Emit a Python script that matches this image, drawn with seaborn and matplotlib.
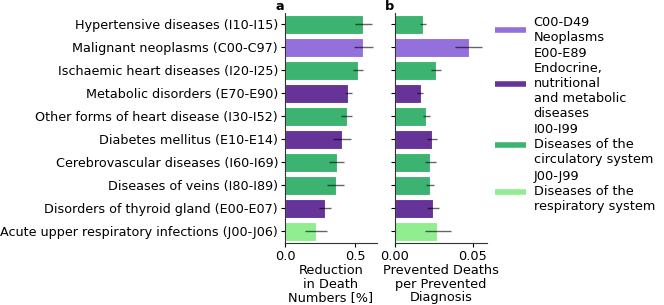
import numpy as np
import pandas as pd
import matplotlib
matplotlib.use("Agg")
import matplotlib.pyplot as plt
from matplotlib.lines import Line2D
from matplotlib.ticker import FormatStrFormatter
import seaborn as sns

# ====================
# DATOS
# ====================
diseases = [
    "Hypertensive diseases (I10-I15)",
    "Malignant neoplasms (C00-C97)",
    "Ischaemic heart diseases (I20-I25)",
    "Metabolic disorders (E70-E90)",
    "Other forms of heart disease (I30-I52)",
    "Diabetes mellitus (E10-E14)",
    "Cerebrovascular diseases (I60-I69)",
    "Diseases of veins (I80-I89)",
    "Disorders of thyroid gland (E00-E07)",
    "Acute upper respiratory infections (J00-J06)",
]
chapters = ["I00-I99", "C00-D49", "I00-I99", "E00-E89", "I00-I99",
            "E00-E89", "I00-I99", "I00-I99", "E00-E89", "J00-J99"]

reduction = [0.557, 0.557, 0.521, 0.452, 0.440, 0.405, 0.367, 0.360, 0.283, 0.219]
reduction_lo = [0.498, 0.490, 0.486, 0.430, 0.398, 0.343, 0.312, 0.302, 0.240, 0.143]
reduction_hi = [0.617, 0.630, 0.557, 0.474, 0.479, 0.469, 0.421, 0.417, 0.331, 0.300]

prevented = [0.0182, 0.0472, 0.0261, 0.0167, 0.0201, 0.0237, 0.0227, 0.0222, 0.0241, 0.0271]
prevented_lo = [0.0162, 0.0383, 0.0229, 0.0143, 0.0180, 0.0207, 0.0194, 0.0197, 0.0207, 0.0190]
prevented_hi = [0.0201, 0.0560, 0.0297, 0.0182, 0.0227, 0.0271, 0.0261, 0.0248, 0.0280, 0.0357]

chapter_labels = {
    "C00-D49": "C00-D49\nNeoplasms",
    "E00-E89": "E00-E89\nEndocrine,\nnutritional\nand metabolic\ndiseases",
    "I00-I99": "I00-I99\nDiseases of the\ncirculatory system",
    "J00-J99": "J00-J99\nDiseases of the\nrespiratory system",
}
palette = {
    "C00-D49": "#9370db",
    "E00-E89": "#663399",
    "I00-I99": "#3cb371",
    "J00-J99": "#90ee90",
}

df = pd.DataFrame({
    "disease": diseases, "chapter": chapters,
    "reduction": reduction, "red_lo": reduction_lo, "red_hi": reduction_hi,
    "prevented": prevented, "prev_lo": prevented_lo, "prev_hi": prevented_hi,
})

# ====================
# ESTILO
# ====================
FS = 9.3
FS_TICK = 9.15
sns.set_style("ticks")
plt.rcParams["font.family"] = ["DejaVu Sans"]
plt.rcParams["font.size"] = FS
plt.rcParams["text.color"] = "black"
plt.rcParams["axes.labelcolor"] = "black"
plt.rcParams["xtick.color"] = "black"
plt.rcParams["ytick.color"] = "black"
plt.rcParams["axes.edgecolor"] = "0.2"
plt.rcParams["xtick.major.size"] = 3
plt.rcParams["ytick.major.size"] = 3
plt.rcParams["xtick.major.pad"] = 2
plt.rcParams["ytick.major.pad"] = 2

fig = plt.figure(figsize=(6.64, 3.05), dpi=100)
ax_a = fig.add_axes([285 / 664, 1 - 243 / 305, 92 / 664, 230 / 305])
ax_b = fig.add_axes([395 / 664, 1 - 243 / 305, 92 / 664, 230 / 305])


def panel(ax, col, lo, hi, xlim, ticks, xlabel, letter):
    sns.barplot(data=df, x=col, y="disease", hue="chapter", palette=palette,
                dodge=False, ax=ax, edgecolor="white", linewidth=0.8,
                legend=False, width=0.8, saturation=1)
    pos = np.arange(len(df))
    ax.errorbar(df[col], pos,
                xerr=[df[col] - df[lo], df[hi] - df[col]],
                fmt="none", ecolor="black", alpha=0.6, elinewidth=1.0,
                capsize=0)
    ax.set_xlim(*xlim)
    ax.set_xticks(ticks)
    ax.tick_params(labelsize=FS_TICK)
    ax.tick_params(axis="x", labelsize=FS)
    ax.set_xlabel(xlabel, fontsize=FS, labelpad=1, linespacing=1.05)
    ax.set_ylabel("")
    ax.set_ylim(len(df) - 0.5, -0.5)
    ax.text(-0.01, 1.0, letter, transform=ax.transAxes, fontsize=FS,
            fontweight="bold", ha="right", va="bottom")
    sns.despine(ax=ax)


panel(ax_a, "reduction", "red_lo", "red_hi", (0, 0.655), [0.0, 0.5],
      "Reduction\nin Death\nNumbers [%]", "a")
panel(ax_b, "prevented", "prev_lo", "prev_hi", (0, 0.059), [0.0, 0.05],
      "Prevented Deaths\nper Prevented\nDiagnosis", "b")
ax_a.xaxis.set_major_formatter(FormatStrFormatter("%.1f"))
ax_b.xaxis.set_major_formatter(FormatStrFormatter("%.2f"))
ax_b.set_yticklabels([])

# ====================
# LEYENDA
# ====================
order = ["C00-D49", "E00-E89", "I00-I99", "J00-J99"]
handles = [Line2D([0], [0], color=palette[c], lw=4, solid_capstyle="butt")
           for c in order]
leg = fig.legend(handles, [chapter_labels[c] for c in order], frameon=False,
                 loc="upper left", bbox_to_anchor=(495 / 664, 1 - 16 / 305),
                 fontsize=FS, handlelength=2.4, labelspacing=0.25,
                 handletextpad=0.6, borderpad=0, borderaxespad=0)

fig.savefig("out.png", dpi=100)
